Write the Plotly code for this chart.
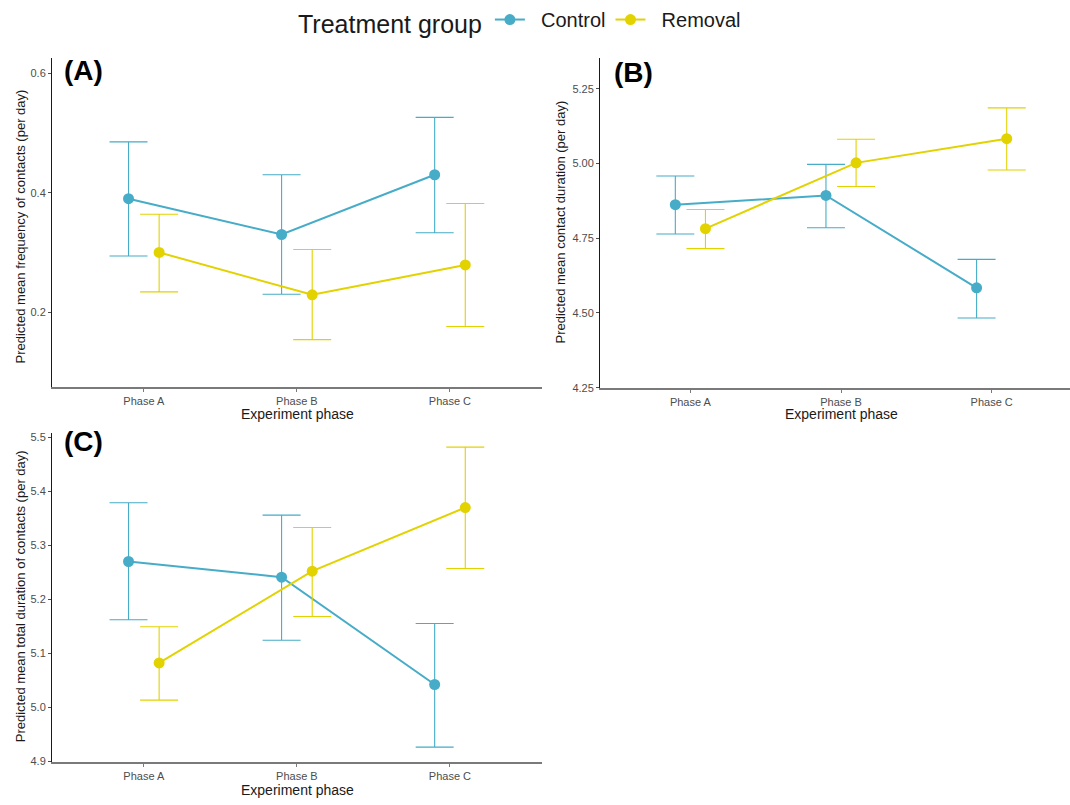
import plotly.graph_objects as go

# ---------------- data ----------------
phases = ["Phase A", "Phase B", "Phase C"]
groups = ["Control", "Removal"]

# Panel A: frequency of contacts
a_control_mean = [0.390, 0.330, 0.430]
a_control_low = [0.294, 0.230, 0.333]
a_control_high = [0.485, 0.430, 0.526]
a_removal_mean = [0.300, 0.229, 0.279]
a_removal_low = [0.234, 0.154, 0.176]
a_removal_high = [0.364, 0.305, 0.382]

# Panel B: contact duration
b_control_mean = [4.862, 4.893, 4.584]
b_control_low = [4.764, 4.785, 4.483]
b_control_high = [4.958, 4.997, 4.679]
b_removal_mean = [4.782, 5.002, 5.083]
b_removal_low = [4.715, 4.923, 4.978]
b_removal_high = [4.846, 5.081, 5.186]

# Panel C: total duration of contacts
c_control_mean = [5.270, 5.241, 5.042]
c_control_low = [5.162, 5.124, 4.926]
c_control_high = [5.379, 5.356, 5.155]
c_removal_mean = [5.082, 5.252, 5.370]
c_removal_low = [5.013, 5.168, 5.257]
c_removal_high = [5.149, 5.333, 5.482]

a_ticks = [0.2, 0.4, 0.6]
b_ticks = [4.25, 4.50, 4.75, 5.00, 5.25]
c_ticks = [4.9, 5.0, 5.1, 5.2, 5.3, 5.4, 5.5]

# ---------------- style ----------------
COLORS = {"Control": "#46ACC8", "Removal": "#E2D200"}
DODGE = {"Control": -0.1, "Removal": 0.1}
FONT = "Liberation Sans, Arial, sans-serif"
PAD = "\u00a0\u00a0"  # small gap between legend glyph and label

fig = go.Figure()

panels = [
    ("", [(a_control_mean, a_control_low, a_control_high), (a_removal_mean, a_removal_low, a_removal_high)]),
    ("2", [(b_control_mean, b_control_low, b_control_high), (b_removal_mean, b_removal_low, b_removal_high)]),
    ("3", [(c_control_mean, c_control_low, c_control_high), (c_removal_mean, c_removal_low, c_removal_high)]),
]

for pi, (suffix, series) in enumerate(panels):
    for g, (mean, low, high) in zip(groups, series):
        xs = [i + DODGE[g] for i in range(len(phases))]
        fig.add_trace(go.Scatter(
            x=xs, y=mean,
            mode="lines+markers",
            name=PAD + g, legendgroup=g, showlegend=(pi == 0),
            line=dict(color=COLORS[g], width=2),
            marker=dict(color=COLORS[g], size=11),
            error_y=dict(type="data", symmetric=False,
                         array=[h - m for h, m in zip(high, mean)],
                         arrayminus=[m - l for m, l in zip(mean, low)],
                         color=COLORS[g], thickness=1.1, width=19),
            xaxis="x" + suffix, yaxis="y" + suffix,
        ))

W, H = 1070, 805
def px_x(p):
    return p / W
def px_y(p):
    return 1 - p / H

xdomA = [px_x(52), px_x(541.8)]
xdomB = [px_x(600), 1.0]
ydomA = [px_y(388), px_y(56)]
ydomB = [px_y(389), px_y(56)]
ydomC = [px_y(767.5), px_y(435)]

xaxis_common = dict(
    tickmode="array", tickvals=[0, 1, 2], ticktext=phases,
    showgrid=False, zeroline=False, showline=True,
    linecolor="#7a7a7a", linewidth=2,
    ticks="outside", ticklen=3, tickcolor="#7a7a7a", tickwidth=1,
    tickfont=dict(family=FONT, size=11, color="#4D4D4D"),
)
yaxis_common = dict(
    showgrid=False, zeroline=False, showline=True,
    linecolor="#1a1a1a", linewidth=1,
    ticks="outside", ticklen=3, tickcolor="#4D4D4D", tickwidth=1,
    tickfont=dict(family=FONT, size=11, color="#4D4D4D"),
)

fig.update_layout(
    xaxis=dict(xaxis_common, domain=xdomA, range=[-0.6, 2.6], anchor="y"),
    yaxis=dict(yaxis_common, domain=ydomA, range=[0.0753, 0.6248], anchor="x",
               tickvals=a_ticks, ticktext=[f"{v:.1f}" for v in a_ticks]),
    xaxis2=dict(xaxis_common, domain=xdomB, range=[-0.6, 2.52], anchor="y2"),
    yaxis2=dict(yaxis_common, domain=ydomB, range=[4.25, 5.3516], anchor="x2",
                tickvals=b_ticks, ticktext=[f"{v:.2f}" for v in b_ticks]),
    xaxis3=dict(xaxis_common, domain=xdomA, range=[-0.6, 2.6], anchor="y3"),
    yaxis3=dict(yaxis_common, domain=ydomC, range=[4.8985, 5.5079], anchor="x3",
                tickvals=c_ticks, ticktext=[f"{v:.1f}" for v in c_ticks]),
    width=W, height=H,
    margin=dict(l=0, r=0, t=0, b=0),
    paper_bgcolor="white", plot_bgcolor="white",
    font=dict(family=FONT, color="#1a1a1a"),
    showlegend=True,
    legend=dict(
        orientation="h", x=px_x(296), xanchor="left", y=px_y(-3), yanchor="top",
        title=dict(text="Treatment group", font=dict(family=FONT, size=25, color="#1a1a1a")),
        font=dict(family=FONT, size=20, color="#1a1a1a"),
        bgcolor="rgba(0,0,0,0)",
    ),
)

annotations = []
# panel labels
for txt, x, y in [("(A)", 62, 68), ("(B)", 612, 70), ("(C)", 62, 443)]:
    annotations.append(dict(text=f"<b>{txt}</b>", x=px_x(x), y=px_y(y), xref="paper", yref="paper",
                            xanchor="left", yanchor="middle", showarrow=False,
                            font=dict(family=FONT, size=28, color="black")))
# y axis titles
for txt, x, y in [("Predicted mean frequency of contacts (per day)", 20, 226),
                  ("Predicted mean contact duration (per day)", 561, 222),
                  ("Predicted mean total duration of contacts (per day)", 20, 600)]:
    annotations.append(dict(text=txt, x=px_x(x), y=px_y(y), xref="paper", yref="paper",
                            xanchor="center", yanchor="middle", textangle=-90, showarrow=False,
                            font=dict(family=FONT, size=13, color="#1a1a1a")))
# x axis titles
for x, y in [(297, 416), (841, 416), (297, 796)]:
    annotations.append(dict(text="Experiment phase", x=px_x(x), y=px_y(y), xref="paper", yref="paper",
                            xanchor="center", yanchor="middle", showarrow=False,
                            font=dict(family=FONT, size=14, color="#1a1a1a")))
fig.update_layout(annotations=annotations)

fig.write_html("out.html")
